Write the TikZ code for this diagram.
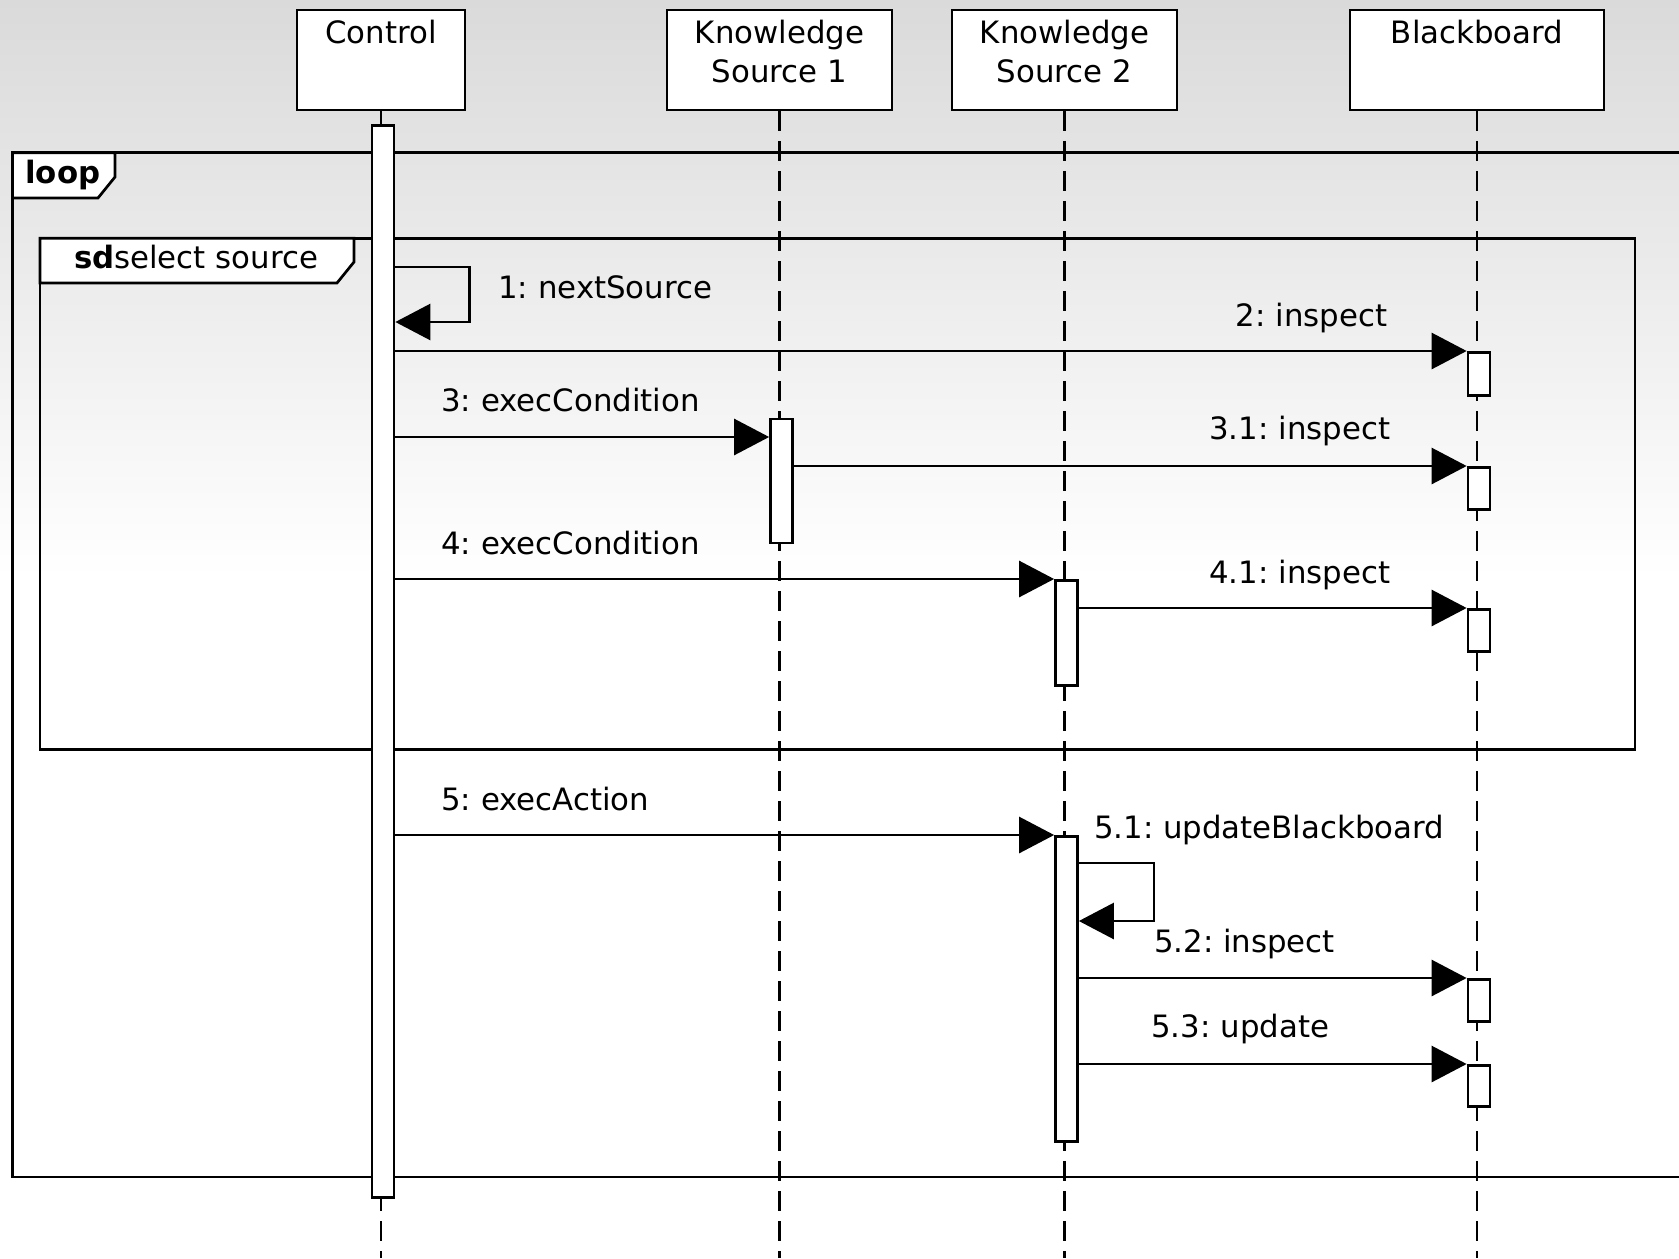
\documentclass[tikz,border=0pt]{standalone}
\usepackage{fontspec}
\setmainfont{DejaVu Sans}
\usepackage{xcolor}
\usetikzlibrary{arrows.meta}
\definecolor{bgtop}{RGB}{218,218,218}
\frenchspacing

\begin{document}
\begin{tikzpicture}[x=0.5pt, y=-0.5pt, line width=1.35pt,
 part node/.style={draw, fill=white, minimum height=50pt, inner sep=0pt},
 part text/.style={anchor=north, align=center, inner sep=0pt, font=\fontsize{15.4}{19.3}\selectfont},
 act node/.style={draw, fill=white, minimum width=11pt, inner sep=0pt, anchor=north},
 life line/.style={dash pattern=on 10pt off 5pt},
 msg/.style={-{Triangle[length=17.5pt, width=18pt]}},
 msg text/.style={anchor=base west, inner sep=0pt, font=\fontsize{15.4}{18}\selectfont}]
\clip (0,0) rectangle (1679,1258);
\fill[top color=bgtop, bottom color=white] (0,0) rectangle (1679,578);
\fill[white] (0,578) rectangle (1679,1258);
\draw (12.6,152.7) rectangle (1700,1177);
\draw[fill=white] (12.6,152.7) -- (115,152.7) -- (115,177) -- (98,198) -- (12.6,198) -- cycle;
\node[msg text, font=\bfseries\fontsize{15.4}{18}\selectfont] (loop) at (24,183.3) {loop};
\draw (40,238.3) rectangle (1635,749.6);
\draw[fill=white] (40,238.3) -- (354,238.3) -- (354,262) -- (337,283) -- (40,283) -- cycle;
\node[msg text] (sd) at (72.7,268.3) {\textbf{sd}select source};
\node[part node, minimum width=84pt] (c) at (381,60) {};
\node[part node, minimum width=112.5pt] (k1) at (779.5,60) {};
\node[part node, minimum width=112.5pt] (k2) at (1064.5,60) {};
\node[part node, minimum width=127pt] (b) at (1477,60) {};
\node[part text] (ct) at (c.north |- 0,19) {Control};
\node[part text] (k1t) at (k1.north |- 0,19) {Knowledge\\Source 1};
\node[part text] (k2t) at (k2.north |- 0,19) {Knowledge\\Source 2};
\node[part text] (bt) at (b.north |- 0,19) {Blackboard};
\draw[life line] (c.south) -- (c.south |- 0,1258);
\draw[life line] (k1.south) -- (k1.south |- 0,1258);
\draw[life line] (k2.south) -- (k2.south |- 0,1258);
\draw[life line] (b.south) -- (b.south |- 0,1258);
\node[act node, minimum height=536pt] (a0) at ([xshift=1pt]c.south |- 0,124) {};
\node[act node, minimum height=62pt] (a1) at ([xshift=1pt]k1.south |- 0,417.6) {};
\node[act node, minimum height=52.5pt] (a2) at ([xshift=1pt]k2.south |- 0,579) {};
\node[act node, minimum height=152.5pt] (a3) at ([xshift=1pt]k2.south |- 0,835) {};
\node[act node, minimum height=21.5pt] (b1) at ([xshift=1pt]b.south |- 0,351) {};
\node[act node, minimum height=21pt] (b2) at ([xshift=1pt]b.south |- 0,466) {};
\node[act node, minimum height=21pt] (b3) at ([xshift=1pt]b.south |- 0,608) {};
\node[act node, minimum height=21pt] (b4) at ([xshift=1pt]b.south |- 0,978) {};
\node[act node, minimum height=20.5pt] (b5) at ([xshift=1pt]b.south |- 0,1064) {};
\draw[msg] (a0.east |- 0,267) -- ++(74,0) |- (a0.east |- 0,322);
\draw[msg] (a0.east |- 0,351) -- (b1.north west);
\draw[msg] (a0.east |- 0,437) -- (a1.west |- 0,437);
\draw[msg] (a1.east |- 0,466) -- (b2.north west);
\draw[msg] (a0.east |- 0,579) -- (a2.north west);
\draw[msg] (a2.east |- 0,608) -- (b3.north west);
\draw[msg] (a0.east |- 0,835) -- (a3.north west);
\draw[msg] (a3.east |- 0,863) -- ++(75,0) |- (a3.east |- 0,921);
\draw[msg] (a3.east |- 0,978) -- (b4.north west);
\draw[msg] (a3.east |- 0,1064) -- (b5.north west);
\node[msg text] (m1) at (497,298) {1: nextSource};
\node[msg text] (m2) at (1234.6,326) {2: inspect};
\node[msg text] (m3) at (440,411.5) {3: execCondition};
\node[msg text] (m31) at (1208,439) {3.1: inspect};
\node[msg text] (m4) at (440,554) {4: execCondition};
\node[msg text] (m41) at (1208,583) {4.1: inspect};
\node[msg text] (m5) at (440,810) {5: execAction};
\node[msg text] (m51) at (1092.7,838.5) {5.1: updateBlackboard};
\node[msg text] (m52) at (1152.7,952.5) {5.2: inspect};
\node[msg text] (m53) at (1150,1037.5) {5.3: update};
\end{tikzpicture}
\end{document}
